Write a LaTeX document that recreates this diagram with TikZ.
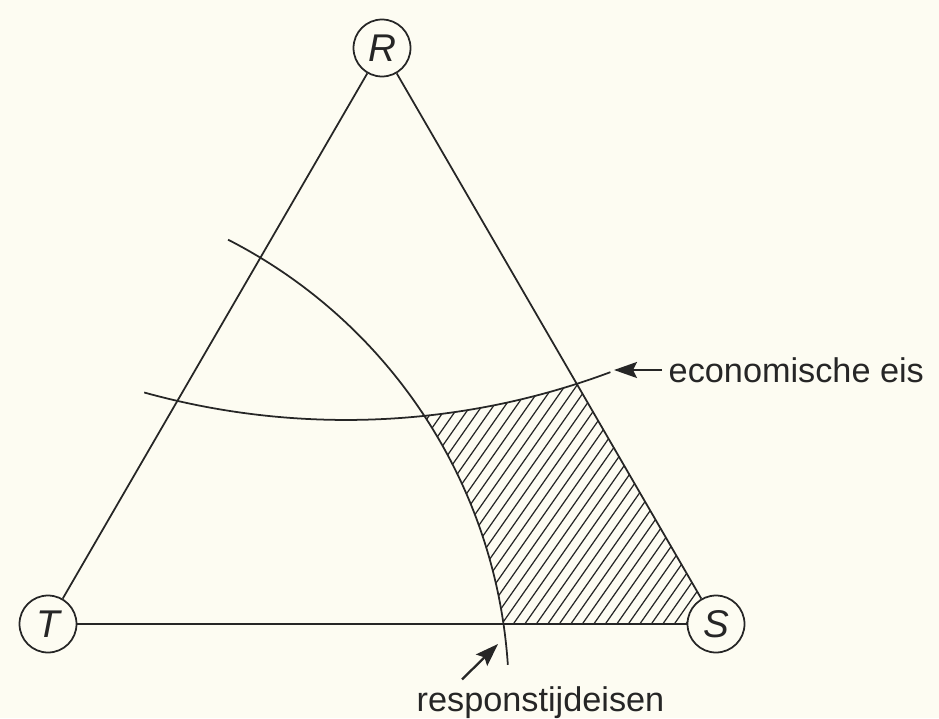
\documentclass[tikz,border=0pt]{standalone}
\usepackage{fontspec}
\setmainfont{Liberation Sans}
\usetikzlibrary{arrows.meta}
\definecolor{papier}{RGB}{253,252,242}
\definecolor{inkt}{RGB}{38,38,38}

\begin{document}
\begin{tikzpicture}[x=0.02cm, y=0.02cm, line width=1pt,
    hoek/.style={circle, draw=inkt, fill=papier, minimum size=1.14cm, inner sep=0pt,
        font=\fontsize{22}{24}\selectfont\itshape, text=inkt},
    tekst/.style={font=\fontsize{19.5}{22}\selectfont, text=inkt},
    pijl/.style={draw=inkt, line width=1.3pt, -{Stealth[length=4.6mm, width=3.2mm, inset=0.8mm]}},
    arcering/.style={draw=inkt, line width=0.7pt}]
    \fill[papier] (0,0) rectangle (939,718);
    \useasboundingbox (0,0) rectangle (939,718);

    \coordinate (Mr) at (-7,19);    % middelpunt responsboog
    \coordinate (Me) at (346,1053); % middelpunt economische boog
    \coordinate (P) at (424.4,302.1); % snijpunt van de bogen

    % gearceerd gebied
    \begin{scope}
        \clip (48,94) -- (716,94) -- (382,672) -- cycle;
        \clip (P) arc[start angle=275.96, end angle=300, radius=755] -- (1000,-50)
            -- ([shift={(-10:516)}]Mr) arc[start angle=-10, end angle=33.27, radius=516] -- cycle;
        \foreach \k in {0,...,42} {\draw[arcering] (262+11.5*\k,80) -- ++(55:340);}
    \end{scope}

    \draw[inkt] (Mr) ++(62.9:516) arc[start angle=62.9, end angle=3.8, radius=516]; % responstijdeisen
    \draw[inkt] (Me) ++(254.5:755) arc[start angle=254.5, end angle=290.5, radius=755]; % economische eis

    \node[hoek] (R) at (382,670) {R};
    \node[hoek] (T) at (48,94) {T};
    \node[hoek] (S) at (716,94) {S};

    \draw[inkt] (T) -- (S); \draw[inkt] (T) -- (R); \draw[inkt] (R) -- (S);

    \node[tekst, anchor=west] (econ) at (662,348) {economische eis};
    \coordinate (econpunt) at (614,348);
    \draw[pijl] (econ) -- (econpunt);

    \node[tekst, anchor=base west] (resp) at (410,7) {responstijdeisen};
    \coordinate (respunt) at (498,74);
    \draw[pijl] ([shift={(52,0)}]resp.north west) -- (respunt);
\end{tikzpicture}
\end{document}
